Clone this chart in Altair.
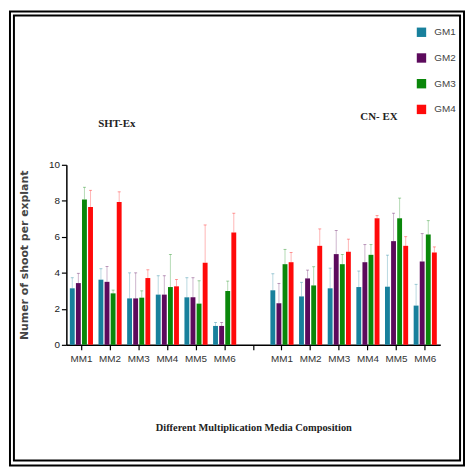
import altair as alt
import pandas as pd

media = ["MM1", "MM2", "MM3", "MM4", "MM5", "MM6"]
groups = ["GM1", "GM2", "GM3", "GM4"]
colors = ["#18809c", "#5c0a5c", "#0a870a", "#ff0a0a"]

# SHT-Ex means and upper error lengths
sht_gm1 = [3.14, 3.62, 2.58, 2.79, 2.64, 1.05]
sht_gm2 = [3.43, 3.50, 2.58, 2.79, 2.64, 1.05]
sht_gm3 = [8.08, 2.86, 2.62, 3.21, 2.29, 2.99]
sht_gm4 = [7.66, 7.93, 3.71, 3.25, 4.56, 6.24]
sht_gm1_err = [0.59, 0.61, 1.42, 1.05, 1.09, 0.19]
sht_gm2_err = [0.54, 0.85, 1.42, 1.05, 1.09, 0.19]
sht_gm3_err = [0.67, 0.18, 0.38, 1.81, 1.27, 0.55]
sht_gm4_err = [0.92, 0.57, 0.46, 0.38, 2.10, 1.07]

# CN- EX means and upper error lengths
cn_gm1 = [3.03, 2.69, 3.14, 3.21, 3.23, 2.18]
cn_gm2 = [2.31, 3.69, 5.04, 4.59, 5.76, 4.63]
cn_gm3 = [4.48, 3.30, 4.48, 5.00, 7.03, 6.13]
cn_gm4 = [4.59, 5.50, 5.17, 7.03, 5.50, 5.13]
cn_gm1_err = [0.92, 0.78, 1.12, 0.89, 1.75, 1.18]
cn_gm2_err = [1.10, 0.46, 1.31, 0.98, 1.55, 1.55]
cn_gm3_err = [0.82, 1.04, 0.54, 0.57, 1.12, 0.77]
cn_gm4_err = [0.54, 0.94, 0.70, 0.15, 0.51, 0.31]

sht = [(sht_gm1, sht_gm1_err), (sht_gm2, sht_gm2_err), (sht_gm3, sht_gm3_err), (sht_gm4, sht_gm4_err)]
cn = [(cn_gm1, cn_gm1_err), (cn_gm2, cn_gm2_err), (cn_gm3, cn_gm3_err), (cn_gm4, cn_gm4_err)]

rows = []
for prefix, series in (("S-", sht), ("C-", cn)):
    for g, (vals, errs) in zip(groups, series):
        for m, v, e in zip(media, vals, errs):
            rows.append({"pos": prefix + m, "GM": g, "mean": v, "top": v + e})
df = pd.DataFrame(rows)

domain = ["S-" + m for m in media] + ["gap"] + ["C-" + m for m in media]

narrow = "Liberation Sans Narrow, Arial Narrow, Liberation Sans, Arial"

x = alt.X("pos:N", scale=alt.Scale(domain=domain, paddingInner=0.15, paddingOuter=0.1),
          axis=alt.Axis(title="Different Multiplication Media Composition",
                        labelExpr="datum.label == 'gap' ? '' : substring(datum.label, 2)",
                        labelAngle=0, labelFont=narrow, labelFontSize=10, labelColor="#333",
                        labelPadding=4, tickSize=5, tickColor="black", domainColor="black",
                        domainWidth=1.5, tickWidth=1.2,
                        titleFont="Liberation Serif", titleFontWeight="bold", titleFontSize=10.5,
                        titleColor="#222", titlePadding=60))
xo = alt.XOffset("GM:N", scale=alt.Scale(domain=groups, paddingInner=0.2, paddingOuter=0.1))
y_axis = alt.Axis(title="Numer of shoot per explant", values=[0, 2, 4, 6, 8, 10], grid=False,
                  labelOverlap=False,
                  labelFont=narrow, labelFontSize=10, labelColor="#222", labelPadding=2,
                  tickSize=5, tickColor="black", domainColor="black", domainWidth=1.5,
                  tickWidth=1.2,
                  titleFont="DejaVu Sans", titleFontWeight="bold", titleFontSize=11,
                  titleColor="#444", titlePadding=19)
y_scale = alt.Scale(domain=[0, 10])
color_scale = alt.Scale(domain=groups, range=colors)

base = alt.Chart(df)

bars = base.mark_bar().encode(
    x=x, xOffset=xo, y=alt.Y("mean:Q", scale=y_scale, axis=y_axis),
    color=alt.Color("GM:N", scale=color_scale,
                    legend=alt.Legend(title=None, orient="none", legendX=354, legendY=-139,
                                      symbolType="square", symbolSize=90, symbolStrokeWidth=0,
                                      labelFont=narrow, labelFontSize=10, labelColor="#444",
                                      labelOffset=8, rowPadding=16)),
)

err = base.mark_rule(strokeWidth=1, opacity=0.3).encode(
    x=x, xOffset=xo, y=alt.Y("mean:Q", scale=y_scale, axis=y_axis), y2="top:Q",
    color=alt.Color("GM:N", scale=color_scale, legend=None),
)
caps = base.mark_tick(thickness=1, size=3, opacity=0.4).encode(
    x=x, xOffset=xo, y=alt.Y("top:Q", scale=y_scale, axis=y_axis),
    color=alt.Color("GM:N", scale=color_scale, legend=None),
)

one = alt.Data(values=[{"a": 1}])
frame_outer = alt.Chart(one).mark_rect(fill=None, stroke="black", strokeWidth=2).encode(
    x=alt.value(-57), x2=alt.value(402), y=alt.value(-155), y2=alt.value(304))
frame_inner = alt.Chart(one).mark_rect(fill=None, stroke="black", strokeWidth=2).encode(
    x=alt.value(-53), x2=alt.value(398), y=alt.value(-151), y2=alt.value(299))

lab1 = alt.Chart(one).mark_text(text="SHT-Ex", font="Liberation Serif", fontWeight="bold",
                                fontSize=11, color="#222").encode(
    x=alt.value(51), y=alt.value(-41))
lab2 = alt.Chart(one).mark_text(text="CN- EX", font="Liberation Serif", fontWeight="bold",
                                fontSize=11, color="#222").encode(
    x=alt.value(316), y=alt.value(-48))

chart = alt.layer(frame_outer, frame_inner, bars, err, caps, lab1, lab2).properties(
    width=378, height=182,
    autosize=alt.AutoSizeParams(type="none"),
    padding={"left": 59, "top": 156, "right": 25, "bottom": 124},
).configure_view(stroke=None)

chart.save("out.html", embed_options={"renderer": "svg", "actions": False})
